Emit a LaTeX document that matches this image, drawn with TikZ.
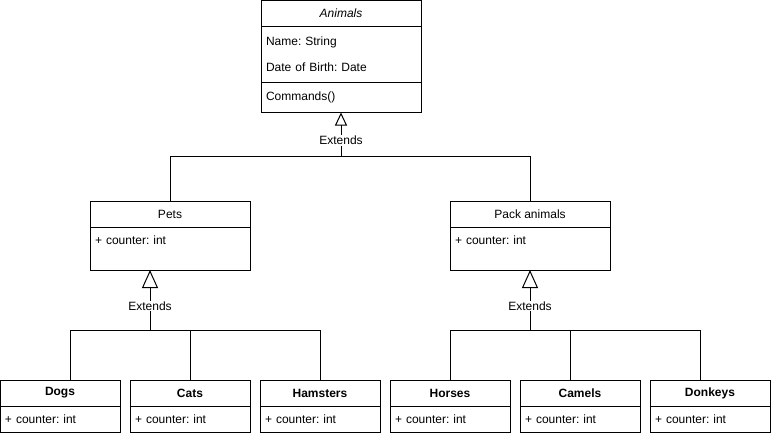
\documentclass[tikz,border=0pt]{standalone}
\usepackage{fontspec}
\setmainfont{Liberation Sans}
\frenchspacing
\usetikzlibrary{positioning,arrows.meta}

\newcommand{\umlfont}{\fontsize{12}{14}\selectfont}

\tikzset{
  head/.style={draw, minimum height=26pt, inner sep=0pt, outer sep=0pt},
  leaf/.style={head, font=\umlfont\bfseries, minimum width=120pt},
  body/.style={draw, inner xsep=5pt, inner ysep=0pt, outer sep=0pt, align=left,
    text height=17pt, text depth=9pt},
  extends/.style={-{Triangle[open,width=16pt,length=18pt]}},
  extends small/.style={-{Triangle[open,width=12pt,length=13pt]}},
  extlabel/.style={fill=white, inner sep=1pt},
}

\begin{document}
\begin{tikzpicture}[x=1pt,y=-1pt,line width=1pt,font=\umlfont]
  \useasboundingbox (0,0) rectangle (771,436);

  % base class
  \node[head, font=\umlfont\itshape, minimum width=160pt] (animals) at (341,13.5) {Animals};
  \node[draw, below=0pt of animals, text width=150pt, inner xsep=5pt, outer sep=0pt,
        minimum height=56pt, align=left] (animals-attr)
        {Name: String\\[12pt]Date of Birth: Date};
  \node[draw, below=0pt of animals-attr, text width=150pt, inner xsep=5pt, outer sep=0pt,
        minimum height=30pt, align=left] (animals-ops) {Commands()};

  % middle classes
  \node[head, minimum width=160pt] (pets) at (170,214) {Pets};
  \node[body, below=0pt of pets, text width=150pt, text depth=26pt] (pets-body) {+ counter: int};
  \node[head, minimum width=160pt] (pack) at (530,214) {Pack animals};
  \node[body, below=0pt of pack, text width=150pt, text depth=26pt] (pack-body) {+ counter: int};

  % leaf classes
  \foreach \name/\title/\x in {dogs/Dogs/60, cats/Cats/190, hamsters/Hamsters/320,
                               horses/Horses/450, camels/Camels/580, donkeys/Donkeys/710} {
    \node[leaf] (\name) at (\x,393) {\title};
    \node[body, below=0pt of \name, text width=110pt] (\name-body) {+ counter: int};
  }

  % inheritance
  \coordinate (topbus) at (341,156);
  \coordinate (petsbus) at (150,330);
  \coordinate (packbus) at (530,330);

  \draw (pets.north) |- (topbus);
  \draw (pack.north) |- (topbus);
  \draw[extends small] (topbus) -- node[extlabel, pos=0.36] {Extends} (animals-ops.south);

  \draw ([xshift=10pt]dogs.north) |- (petsbus);
  \draw (cats.north) |- (petsbus);
  \draw (hamsters.north) |- (petsbus);
  \draw[extends] (petsbus) -- node[extlabel, pos=0.4] {Extends} (pets-body.south -| petsbus);

  \draw (horses.north) |- (packbus);
  \draw ([xshift=-10pt]camels.north) |- (packbus);
  \draw ([xshift=-10pt]donkeys.north) |- (packbus);
  \draw[extends] (packbus) -- node[extlabel, pos=0.4] {Extends} (pack-body.south);
\end{tikzpicture}
\end{document}
